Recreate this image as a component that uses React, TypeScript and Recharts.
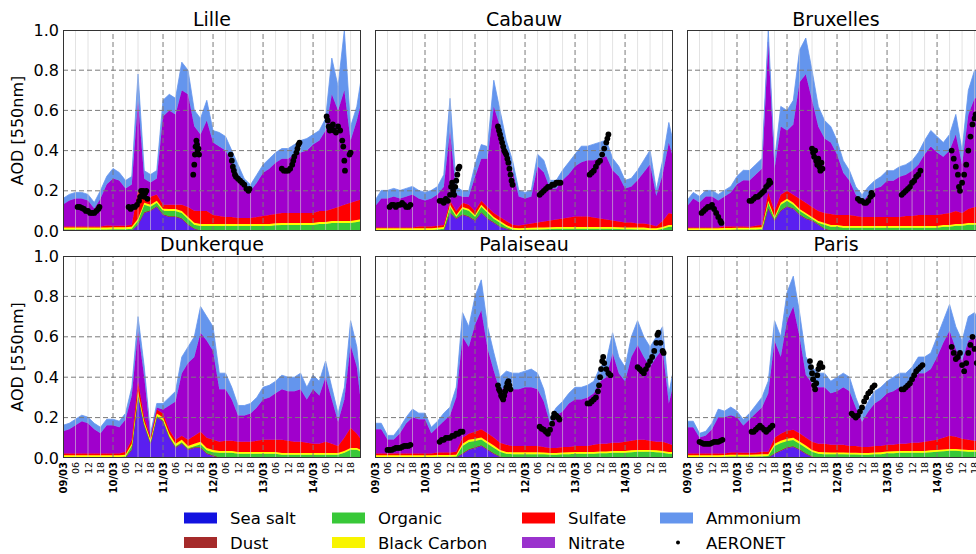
import React from "react";
import { ComposedChart, Area, Scatter, XAxis, YAxis, ReferenceLine } from "recharts";

// time axis: hours since 09/03 00h, every 3 h
const hours = [
  0, 3, 6, 9, 12, 15, 18, 21,
  24, 27, 30, 33, 36, 39, 42, 45,
  48, 51, 54, 57, 60, 63, 66, 69,
  72, 75, 78, 81, 84, 87, 90, 93,
  96, 99, 102, 105, 108, 111, 114, 117,
  120, 123, 126, 129, 132, 135, 138, 141,
  144,
];

const xTicks = [0, 6, 12, 18, 24, 30, 36, 42, 48, 54, 60, 66, 72, 78, 84, 90, 96, 102, 108, 114, 120, 126, 132, 138];
const dayTicks = [24, 48, 72, 96, 120];
const dayLabels = ["09/03", "10/03", "11/03", "12/03", "13/03", "14/03"];
const hourLabels = ["06", "12", "18"];
const yTicks = [0, 0.2, 0.4, 0.6, 0.8, 1.0];
const yGrid = [0.2, 0.4, 0.6, 0.8];

// ---------- Lille ----------
const lilleSeaSalt = [
  0, 0, 0, 0, 0, 0, 0, 0,
  0, 0, 0, 0, .03, .09, .1, .12,
  .08, .07, .07, .06, .03, .01, 0, 0,
  0, 0, 0, 0, 0, 0, 0, 0,
  0, 0, 0, 0, 0, 0, 0, 0,
  0, 0, 0, 0, 0, 0, 0, 0,
  0,
];
const lilleDust = [
  .003, .003, .003, .003, .003, .003, .003, .003,
  .003, .003, .003, .003, .003, .003, .003, .003,
  .003, .003, .003, .003, .003, .003, .003, .003,
  .003, .003, .003, .003, .003, .003, .003, .003,
  .003, .003, .003, .003, .003, .003, .003, .003,
  .003, .003, .003, .003, .003, .003, .003, .003,
  .003,
];
const lilleOrganic = [
  .004, .004, .004, .004, .004, .004, .004, .004,
  .006, .006, .006, .008, .018, .037, .018, .018,
  .018, .027, .027, .027, .027, .018, .022, .022,
  .022, .022, .022, .022, .022, .022, .022, .022,
  .022, .022, .025, .027, .027, .027, .027, .027,
  .027, .032, .032, .037, .037, .037, .037, .042,
  .047,
];
const lilleBlackCarbon = [
  .01, .01, .01, .01, .01, .01, .01, .01,
  .01, .01, .01, .01, .01, .01, .01, .01,
  .01, .01, .01, .01, .01, .01, .01, .01,
  .01, .01, .01, .01, .01, .01, .01, .01,
  .01, .01, .01, .01, .01, .01, .01, .01,
  .01, .01, .01, .01, .01, .01, .01, .01,
  .01,
];
const lilleSulfate = [
  .005, .005, .005, .005, .005, .005, .005, .01,
  .007, .007, .007, .01, .14, .03, .04, .03,
  .02, .02, .02, .03, .05, .06, .065, .065,
  .045, .04, .035, .035, .03, .03, .03, .035,
  .04, .045, .047, .05, .05, .05, .05, .05,
  .05, .055, .055, .06, .07, .08, .09, .095,
  .1,
];
const lilleNitrate = [
  .11, .13, .14, .14, .13, .09, .14, .205,
  .235, .225, .185, .2, .45, .09, .07, .08,
  .44, .47, .45, .57, .56, .42, .38, .45,
  .36, .345, .33, .27, .215, .165, .135, .17,
  .215, .23, .255, .27, .27, .29, .3, .31,
  .34, .35, .4, .57, .48, .57, .31, .4,
  .52,
];
const lilleAmmonium = [
  .03, .03, .03, .03, .03, .03, .04, .04,
  .05, .04, .04, .04, .13, .04, .04, .04,
  .08, .08, .08, .14, .12, .08, .08, .1,
  .06, .07, .07, .06, .05, .03, .03, .04,
  .04, .05, .05, .05, .05, .05, .06, .06,
  .05, .05, .06, .18, .12, .3, .07, .07,
  .14,
];
const lilleAeronet = [
  [7, .12], [8, .12], [9, .115], [10, .11], [11, .1], [12, .1], [13, .09], [14, .09], [15, .09], [16, .1], [17, .11], [17.5, .12],
  [31.5, .12], [32.5, .11], [33.5, .12], [34.5, .12], [35.5, .13], [36.5, .15], [37, .17], [37.5, .2], [38, .18], [38.5, .2], [39, .17], [39.5, .19], [40, .2], [40.5, .16],
  [62.5, .28], [63, .33], [63.3, .38], [63.6, .42], [64, .45], [64.3, .43], [64.6, .4], [65, .41], [65.3, .38],
  [80.5, .38], [81, .35], [81.5, .32], [82, .3], [82.5, .28], [83, .27], [84, .26], [85, .25], [86, .24], [87, .23], [88, .21], [89, .2], [89.5, .21],
  [105, .31], [106, .3], [107, .3], [108, .3], [109, .31], [110, .33], [110.5, .35], [111, .37], [112, .39], [112.5, .41], [113, .43], [113.5, .44],
  [126.5, .57], [127, .55], [127.5, .52], [128, .5], [129, .51], [129.5, .53], [130, .5], [131, .49], [132, .52], [133, .5], [134, .45], [134.5, .42], [135, .35], [135.3, .3], [137.5, .38], [138, .39],
];

// ---------- Cabauw ----------
const cabauwSeaSalt = [
  0, 0, 0, 0, 0, 0, 0, 0,
  0, 0, 0, 0, .09, .06, .08, .07,
  .05, .09, .06, .04, .02, .01, 0, 0,
  0, 0, 0, 0, 0, 0, 0, 0,
  0, 0, 0, 0, 0, 0, 0, 0,
  0, 0, 0, 0, 0, 0, 0, 0,
  0,
];
const cabauwDust = [
  .003, .003, .003, .003, .003, .003, .003, .003,
  .003, .003, .003, .003, .003, .003, .003, .003,
  .003, .003, .003, .003, .003, .003, .003, .003,
  .003, .003, .003, .003, .003, .003, .003, .003,
  .003, .003, .003, .003, .003, .003, .003, .003,
  .003, .003, .003, .003, .003, .003, .003, .003,
  .003,
];
const cabauwOrganic = [
  .002, .002, .002, .002, .002, .002, .002, .002,
  .002, .002, .004, .008, .028, .008, .028, .028,
  .018, .028, .028, .018, .018, .008, .004, .002,
  .003, .004, .005, .006, .007, .008, .008, .008,
  .008, .008, .008, .008, .008, .008, .008, .007,
  .006, .006, .005, .005, .002, .002, .008, .018,
  .018,
];
const cabauwBlackCarbon = [
  .009, .009, .009, .009, .009, .009, .009, .009,
  .009, .009, .009, .009, .009, .009, .009, .009,
  .009, .009, .009, .009, .009, .009, .009, .009,
  .009, .009, .009, .009, .009, .009, .009, .009,
  .009, .009, .009, .009, .009, .009, .009, .009,
  .009, .009, .009, .009, .009, .009, .009, .009,
  .009,
];
const cabauwSulfate = [
  .003, .003, .003, .003, .003, .003, .003, .008,
  .008, .008, .01, .01, .02, .02, .02, .02,
  .02, .02, .02, .02, .02, .02, .015, .013,
  .017, .021, .025, .029, .033, .037, .042, .047,
  .052, .052, .052, .047, .042, .037, .032, .028,
  .024, .024, .02, .02, .018, .01, .03, .06,
  .05,
];
const cabauwNitrate = [
  .105, .145, .145, .155, .145, .155, .165, .14,
  .13, .14, .155, .19, .35, .08, .03, .04,
  .17, .21, .24, .53, .45, .33, .27, .145,
  .13, .135, .28, .245, .16, .155, .19, .215,
  .25, .27, .28, .285, .3, .315, .25, .225,
  .17, .18, .215, .255, .3, .15, .23, .35,
  .25,
];
const cabauwAmmonium = [
  .03, .04, .04, .04, .04, .04, .04, .04,
  .04, .04, .04, .06, .16, .04, .03, .03,
  .06, .07, .06, .13, .08, .07, .05, .03,
  .03, .03, .06, .06, .04, .04, .05, .06,
  .06, .08, .07, .08, .08, .08, .06, .05,
  .04, .04, .05, .06, .07, .03, .07, .1,
  .07,
];
const cabauwAeronet = [
  [7, .12], [8, .13], [9, .13], [10, .12], [11, .13], [12, .13], [13, .14], [14, .13], [15, .12], [16, .12], [17, .13],
  [31, .15], [32, .15], [33, .14], [34, .16], [35, .15], [36, .18], [36.5, .22], [37, .24], [37.5, .2], [38, .18], [38.5, .22], [39, .25], [39.5, .28], [40, .31], [40.5, .32],
  [59, .52], [59.5, .5], [60, .48], [60.5, .46], [61, .44], [61.5, .42], [62, .4], [62.5, .39], [63, .38], [63.5, .36], [64, .34], [64.5, .31], [65, .28], [65.5, .25], [66, .23],
  [79, .18], [80, .19], [81, .2], [82, .21], [83, .22], [84, .22], [85, .23], [86, .23], [87, .24], [88, .24], [89, .24],
  [103, .28], [104, .29], [105, .3], [106, .32], [107, .34], [108, .35], [109, .38], [110, .41], [111, .44], [111.5, .46], [112, .48],
];

// ---------- Bruxelles ----------
const bruxellesSeaSalt = [
  0, 0, 0, 0, 0, 0, 0, 0,
  0, 0, 0, 0, 0, .11, .05, .1,
  .12, .11, .08, .06, .05, .03, .01, 0,
  0, 0, 0, 0, 0, 0, 0, 0,
  0, 0, 0, 0, 0, 0, 0, 0,
  0, 0, 0, 0, 0, 0, 0, 0,
  0,
];
const bruxellesDust = [
  .003, .003, .003, .003, .003, .003, .003, .003,
  .003, .003, .003, .003, .003, .003, .003, .003,
  .003, .003, .003, .003, .003, .003, .003, .003,
  .003, .003, .003, .003, .003, .003, .003, .003,
  .003, .003, .003, .003, .003, .003, .003, .003,
  .003, .003, .003, .003, .003, .003, .003, .003,
  .003,
];
const bruxellesOrganic = [
  .002, .002, .002, .002, .002, .002, .003, .003,
  .004, .004, .004, .005, .007, .028, .008, .028,
  .028, .018, .018, .018, .008, .008, .018, .018,
  .018, .013, .013, .013, .013, .013, .013, .013,
  .013, .013, .013, .013, .013, .013, .013, .013,
  .013, .018, .018, .023, .023, .028, .028, .028,
  .028,
];
const bruxellesBlackCarbon = [
  .009, .009, .009, .009, .009, .009, .009, .009,
  .009, .009, .009, .009, .009, .009, .009, .009,
  .009, .009, .009, .009, .009, .009, .009, .009,
  .009, .009, .009, .009, .009, .009, .009, .009,
  .009, .009, .009, .009, .009, .009, .009, .009,
  .009, .009, .009, .009, .009, .009, .009, .009,
  .009,
];
const bruxellesSulfate = [
  .003, .003, .003, .003, .003, .003, .007, .007,
  .006, .006, .005, .009, .012, .04, .03, .04,
  .04, .04, .05, .05, .05, .05, .05, .055,
  .05, .055, .055, .05, .045, .045, .045, .045,
  .045, .045, .045, .05, .05, .055, .055, .055,
  .055, .055, .06, .065, .055, .07, .08, .08,
  .08,
];
const bruxellesNitrate = [
  .105, .145, .125, .155, .155, .135, .15, .17,
  .21, .23, .23, .255, .28, .75, .21, .34,
  .3, .35, .58, .64, .53, .42, .37, .355,
  .3, .21, .17, .105, .07, .11, .14, .15,
  .18, .18, .2, .205, .225, .25, .3, .34,
  .31, .285, .31, .38, .24, .47, .54, .54,
  .54,
];
const bruxellesAmmonium = [
  .03, .03, .03, .03, .03, .03, .03, .03,
  .04, .05, .05, .05, .05, .06, .04, .1,
  .1, .12, .16, .18, .15, .1, .09, .08,
  .07, .06, .05, .04, .04, .04, .04, .05,
  .05, .05, .05, .05, .05, .06, .07, .08,
  .08, .07, .08, .1, .07, .12, .14, .14,
  .14,
];
const bruxellesAeronet = [
  [7, .09], [8, .1], [9, .11], [10, .12], [11, .12], [12, .13], [13, .11], [14, .09], [15, .07], [16, .05], [16.5, .04],
  [30, .15], [31, .15], [32, .16], [33, .17], [34, .17], [35, .18], [36, .19], [37, .2], [38, .22], [39, .23], [39.5, .25], [40, .24],
  [60, .41], [60.5, .39], [61, .37], [61.5, .4], [62, .35], [62.5, .33], [63, .36], [63.5, .32], [64, .3], [64.5, .34], [65, .31],
  [82, .16], [83, .15], [84, .15], [85, .14], [86, .14], [87, .15], [88, .17], [88.5, .19], [89, .18],
  [103, .18], [104, .19], [105, .2], [106, .21], [107, .22], [108, .24], [109, .25], [110, .27], [111, .28], [112, .3],
  [127, .4], [128, .36], [129, .32], [130, .28], [130.5, .22], [131, .2], [132, .24], [133, .28], [134, .33], [135, .4], [136, .47], [137, .53], [138, .56], [138.5, .58],
];

// ---------- Dunkerque ----------
const dunkerqueSeaSalt = [
  0, 0, 0, 0, 0, 0, 0, 0,
  0, 0, 0, .04, .31, .16, .07, .2,
  .18, .1, .05, .07, .04, .05, .05, .02,
  .01, 0, 0, 0, 0, 0, 0, 0,
  0, 0, 0, 0, 0, 0, 0, 0,
  0, 0, 0, 0, 0, 0, 0, 0,
  0,
];
const dunkerqueDust = [
  .003, .003, .003, .003, .003, .003, .003, .003,
  .003, .003, .003, .003, .003, .003, .003, .003,
  .003, .003, .003, .003, .003, .003, .003, .003,
  .003, .003, .003, .003, .003, .003, .003, .003,
  .003, .003, .003, .003, .003, .003, .003, .003,
  .003, .003, .003, .003, .003, .003, .003, .003,
  .003,
];
const dunkerqueOrganic = [
  .002, .002, .002, .002, .002, .002, .002, .002,
  .002, .002, .004, .018, .005, .005, .005, .005,
  .005, .005, .005, .005, .005, .005, .015, .015,
  .015, .023, .023, .023, .018, .018, .018, .018,
  .018, .018, .018, .013, .013, .013, .013, .013,
  .013, .013, .013, .013, .013, .023, .038, .038,
  .023,
];
const dunkerqueBlackCarbon = [
  .009, .009, .009, .009, .009, .009, .009, .009,
  .009, .009, .009, .009, .012, .012, .012, .012,
  .012, .012, .012, .012, .012, .012, .012, .012,
  .012, .009, .009, .009, .009, .009, .009, .009,
  .009, .009, .009, .009, .009, .009, .009, .009,
  .009, .009, .009, .009, .009, .009, .009, .009,
  .009,
];
const dunkerqueSulfate = [
  .008, .008, .008, .008, .008, .008, .008, .008,
  .008, .008, .015, .02, .05, .02, .01, .02,
  .02, .02, .02, .02, .03, .04, .05, .05,
  .05, .045, .05, .05, .05, .05, .05, .055,
  .06, .06, .06, .065, .06, .055, .055, .05,
  .045, .045, .055, .045, .035, .065, .1, .07,
  .045,
];
const dunkerqueNitrate = [
  .11, .12, .14, .16, .15, .12, .1, .14,
  .14, .13, .16, .22, .25, .2, .01, .01,
  .02, .12, .19, .31, .38, .39, .49, .48,
  .44, .26, .255, .205, .13, .13, .14, .165,
  .2, .21, .23, .25, .245, .25, .26, .215,
  .27, .24, .32, .22, .12, .19, .41, .33,
  .1,
];
const dunkerqueAmmonium = [
  .03, .03, .03, .03, .03, .03, .03, .03,
  .03, .03, .03, .04, .07, .05, .01, .02,
  .03, .04, .05, .08, .08, .1, .13, .12,
  .12, .08, .08, .06, .05, .05, .05, .05,
  .06, .06, .06, .07, .07, .07, .08, .06,
  .07, .07, .08, .06, .04, .06, .12, .1,
  .04,
];
const dunkerqueAeronet: number[][] = [];

// ---------- Palaiseau ----------
const palaiseauSeaSalt = [
  0, 0, 0, 0, 0, 0, 0, 0,
  0, 0, 0, 0, 0, 0, .02, .04,
  .05, .06, .04, .02, .005, 0, 0, 0,
  0, 0, 0, 0, 0, 0, 0, 0,
  0, 0, 0, 0, 0, 0, 0, 0,
  0, 0, 0, 0, 0, 0, 0, 0,
  0,
];
const palaiseauDust = [
  .003, .003, .003, .003, .003, .003, .003, .003,
  .003, .003, .003, .003, .003, .003, .003, .003,
  .003, .003, .003, .003, .003, .003, .003, .003,
  .003, .003, .003, .003, .003, .003, .003, .003,
  .003, .003, .003, .003, .003, .003, .003, .003,
  .003, .003, .003, .003, .003, .003, .003, .003,
  .003,
];
const palaiseauOrganic = [
  .002, .002, .002, .002, .002, .002, .002, .002,
  .002, .002, .003, .003, .003, .004, .036, .036,
  .031, .028, .028, .028, .023, .018, .016, .016,
  .016, .016, .016, .015, .013, .013, .015, .016,
  .018, .018, .018, .018, .02, .02, .023, .023,
  .023, .026, .028, .028, .028, .026, .023, .018,
  .018,
];
const palaiseauBlackCarbon = [
  .009, .009, .009, .009, .009, .009, .009, .009,
  .009, .009, .009, .009, .009, .009, .011, .011,
  .011, .011, .011, .011, .009, .009, .009, .009,
  .009, .009, .009, .009, .009, .009, .009, .009,
  .009, .009, .009, .009, .009, .009, .009, .009,
  .009, .009, .009, .009, .009, .009, .009, .009,
  .009,
];
const palaiseauSulfate = [
  .008, .008, .008, .008, .008, .008, .008, .008,
  .008, .008, .012, .012, .012, .015, .03, .03,
  .035, .04, .04, .04, .035, .035, .032, .032,
  .032, .032, .032, .028, .025, .025, .028, .027,
  .03, .03, .03, .035, .038, .038, .04, .04,
  .045, .047, .05, .05, .045, .042, .045, .04,
  .03,
];
const palaiseauNitrate = [
  .12, .12, .07, .07, .1, .15, .18, .17,
  .17, .1, .125, .155, .185, .27, .5, .43,
  .53, .59, .42, .33, .255, .295, .28, .28,
  .29, .29, .28, .225, .12, .16, .175, .215,
  .23, .23, .24, .255, .31, .33, .445, .345,
  .3, .415, .47, .41, .365, .42, .46, .2,
  .34,
];
const palaiseauAmmonium = [
  .03, .03, .02, .02, .03, .03, .04, .03,
  .03, .03, .03, .04, .04, .05, .12, .1,
  .14, .15, .11, .09, .07, .07, .08, .08,
  .08, .09, .08, .06, .03, .04, .05, .05,
  .06, .06, .06, .06, .07, .08, .1, .08,
  .07, .1, .12, .1, .1, .1, .11, .05,
  .08,
];
const palaiseauAeronet = [
  [6, .04], [7, .04], [8, .04], [9, .045], [10, .05], [11, .05], [12, .05], [13, .055], [14, .06], [15, .06], [16, .06], [17, .065],
  [31, .08], [32, .09], [33, .09], [34, .1], [35, .1], [36, .1], [37, .11], [38, .11], [39, .12], [40, .12], [41, .13], [42, .13],
  [59, .36], [59.5, .34], [60, .33], [60.5, .31], [61, .3], [61.5, .29], [62, .31], [62.5, .33], [63, .35], [63.5, .37], [64, .38], [64.5, .36], [65, .34],
  [79, .155], [80, .145], [81, .14], [82, .13], [83, .12], [84, .14], [85, .17], [85.5, .2], [86, .22], [87, .21], [88, .2], [88.5, .19],
  [102, .27], [103, .27], [104, .28], [105, .29], [106, .3], [107, .33], [107.5, .36], [108, .4], [108.5, .44], [109, .48], [109.5, .5], [110, .47], [111, .44], [112, .42], [113, .41],
  [126, .45], [127, .44], [128, .43], [129, .42], [130, .44], [131, .46], [132, .48], [133, .5], [134, .53], [135, .57], [135.5, .61], [136, .62], [137, .57], [138, .53], [138.5, .52],
];

// ---------- Paris ----------
const parisSeaSalt = [
  0, 0, 0, 0, 0, 0, 0, 0,
  0, 0, 0, 0, 0, 0, .02, .035,
  .05, .055, .04, .02, .005, 0, 0, 0,
  0, 0, 0, 0, 0, 0, 0, 0,
  0, 0, 0, 0, 0, 0, 0, 0,
  0, 0, 0, 0, 0, 0, 0, 0,
  0,
];
const parisDust = [
  .003, .003, .003, .003, .003, .003, .003, .003,
  .003, .003, .003, .003, .003, .003, .003, .003,
  .003, .003, .003, .003, .003, .003, .003, .003,
  .003, .003, .003, .003, .003, .003, .003, .003,
  .003, .003, .003, .003, .003, .003, .003, .003,
  .003, .003, .003, .003, .003, .003, .003, .003,
  .003,
];
const parisOrganic = [
  .002, .002, .002, .002, .002, .002, .003, .004,
  .004, .004, .004, .005, .006, .007, .036, .036,
  .031, .031, .028, .028, .023, .018, .016, .015,
  .015, .015, .014, .014, .013, .013, .015, .016,
  .02, .021, .023, .023, .023, .023, .023, .026,
  .028, .03, .033, .033, .03, .028, .028, .026,
  .026,
];
const parisBlackCarbon = [
  .009, .009, .009, .009, .009, .009, .009, .009,
  .009, .009, .009, .009, .009, .009, .011, .011,
  .011, .011, .011, .011, .009, .009, .009, .009,
  .009, .009, .009, .009, .009, .009, .009, .009,
  .009, .009, .009, .009, .009, .009, .009, .009,
  .009, .009, .009, .009, .009, .009, .009, .009,
  .009,
];
const parisSulfate = [
  .008, .008, .008, .008, .008, .008, .007, .011,
  .011, .01, .01, .009, .013, .012, .03, .035,
  .04, .04, .04, .04, .04, .04, .042, .038,
  .038, .038, .034, .034, .03, .03, .033, .032,
  .033, .032, .035, .035, .04, .04, .045, .047,
  .05, .058, .065, .06, .053, .05, .045, .042,
  .042,
];
const parisNitrate = [
  .13, .13, .08, .09, .12, .18, .18, .185,
  .175, .135, .165, .195, .22, .29, .48, .38,
  .545, .61, .48, .31, .29, .28, .28, .255,
  .265, .285, .27, .19, .125, .175, .21, .23,
  .255, .265, .28, .28, .305, .345, .34, .355,
  .41, .47, .52, .435, .385, .49, .515, .46,
  .42,
];
const parisAmmonium = [
  .03, .03, .02, .02, .03, .04, .03, .04,
  .03, .03, .03, .04, .05, .06, .1, .1,
  .14, .15, .12, .09, .08, .07, .07, .06,
  .07, .07, .07, .05, .04, .05, .06, .06,
  .06, .07, .07, .07, .07, .08, .08, .08,
  .1, .11, .13, .11, .1, .12, .12, .11,
  .1,
];
const parisAeronet = [
  [6, .08], [7, .075], [8, .07], [9, .07], [10, .07], [11, .07], [12, .075], [13, .08], [14, .08], [15, .08], [16, .085], [17, .09],
  [31, .13], [32, .13], [33, .14], [34, .15], [35, .16], [36, .15], [37, .14], [38, .13], [39, .14], [40, .15], [41, .16],
  [59, .48], [59.5, .45], [60, .42], [60.5, .39], [61, .36], [61.5, .34], [62, .37], [62.5, .41], [63, .44], [63.5, .46], [64, .47], [65, .45],
  [79, .22], [80, .21], [81, .2], [82, .21], [83, .23], [84, .25], [85, .28], [86, .3], [87, .32], [88, .33], [89, .35], [90, .36],
  [103, .34], [104, .34], [105, .35], [106, .36], [107, .37], [108, .39], [109, .41], [110, .43], [111, .44], [112, .45], [113, .46],
  [127, .55], [128, .52], [129, .49], [130, .5], [131, .52], [132, .46], [133, .43], [134, .47], [135, .52], [136, .56], [137, .6], [138, .54], [139, .47],
];

const FONT = '"DejaVu Sans", "Liberation Sans", sans-serif';

// stack order bottom -> top
const layers = [
  { key: "seaSalt", name: "Sea salt", color: "#5a1ff0", legend: "#1212e0" },
  { key: "dust", name: "Dust", color: "#a52a2a", legend: "#a52a2a" },
  { key: "organic", name: "Organic", color: "#38c838", legend: "#38c838" },
  { key: "blackCarbon", name: "Black Carbon", color: "#ffff00", legend: "#f8f400" },
  { key: "sulfate", name: "Sulfate", color: "#ff0000", legend: "#ff0000" },
  { key: "nitrate", name: "Nitrate", color: "#a000cc", legend: "#9a32cd" },
  { key: "ammonium", name: "Ammonium", color: "#6495ed", legend: "#6495ed" },
];

const stations = [
  { name: "Lille", col: 0, row: 0, seaSalt: lilleSeaSalt, dust: lilleDust, organic: lilleOrganic, blackCarbon: lilleBlackCarbon, sulfate: lilleSulfate, nitrate: lilleNitrate, ammonium: lilleAmmonium, aeronet: lilleAeronet },
  { name: "Cabauw", col: 1, row: 0, seaSalt: cabauwSeaSalt, dust: cabauwDust, organic: cabauwOrganic, blackCarbon: cabauwBlackCarbon, sulfate: cabauwSulfate, nitrate: cabauwNitrate, ammonium: cabauwAmmonium, aeronet: cabauwAeronet },
  { name: "Bruxelles", col: 2, row: 0, seaSalt: bruxellesSeaSalt, dust: bruxellesDust, organic: bruxellesOrganic, blackCarbon: bruxellesBlackCarbon, sulfate: bruxellesSulfate, nitrate: bruxellesNitrate, ammonium: bruxellesAmmonium, aeronet: bruxellesAeronet },
  { name: "Dunkerque", col: 0, row: 1, seaSalt: dunkerqueSeaSalt, dust: dunkerqueDust, organic: dunkerqueOrganic, blackCarbon: dunkerqueBlackCarbon, sulfate: dunkerqueSulfate, nitrate: dunkerqueNitrate, ammonium: dunkerqueAmmonium, aeronet: dunkerqueAeronet },
  { name: "Palaiseau", col: 1, row: 1, seaSalt: palaiseauSeaSalt, dust: palaiseauDust, organic: palaiseauOrganic, blackCarbon: palaiseauBlackCarbon, sulfate: palaiseauSulfate, nitrate: palaiseauNitrate, ammonium: palaiseauAmmonium, aeronet: palaiseauAeronet },
  { name: "Paris", col: 2, row: 1, seaSalt: parisSeaSalt, dust: parisDust, organic: parisOrganic, blackCarbon: parisBlackCarbon, sulfate: parisSulfate, nitrate: parisNitrate, ammonium: parisAmmonium, aeronet: parisAeronet },
];

// plot-area geometry (px)
const COL_X = [63, 375, 687];
const ROW_Y = [30, 256];
const ROW_H = [201, 202];
const PLOT_W = 298;
const AXIS_W = 63;
const XAXIS_H = 46;
const PAD = 10;

function XTick(props: any) {
  const { x, y, payload } = props;
  const h = payload.value;
  const isDay = h % 24 === 0;
  const label = isDay ? dayLabels[h / 24] : hourLabels[(h % 24) / 6 - 1];
  return (
    <text
      x={x}
      y={y}
      transform={`rotate(-90 ${x} ${y})`}
      textAnchor="end"
      dominantBaseline="central"
      fontSize={isDay ? 10 : 9.5}
      fontWeight={isDay ? "bold" : "normal"}
      fontFamily={FONT}
      fill="#000"
    >
      {label}
    </text>
  );
}

const Dot = (props: any) => <circle cx={props.cx} cy={props.cy} r={2.9} fill="#000" />;

function Panel({ st }: { st: any }) {
  const showY = st.col === 0;
  const showX = st.row === 1;
  const yw = showY ? AXIS_W : 0;
  const ml = showY ? 0 : PAD;
  const xh = showX ? XAXIS_H : 0;
  const mb = showX ? 0 : PAD;
  const plotH = ROW_H[st.row];
  const rows = hours.map((h, i) => ({
    h,
    seaSalt: st.seaSalt[i],
    dust: st.dust[i],
    organic: st.organic[i],
    blackCarbon: st.blackCarbon[i],
    sulfate: st.sulfate[i],
    nitrate: st.nitrate[i],
    ammonium: st.ammonium[i],
  }));
  const pts = st.aeronet.map(([h, v]: number[]) => ({ h, v }));

  return (
    <div style={{ position: "absolute", left: COL_X[st.col] - yw - ml, top: ROW_Y[st.row] - PAD }}>
      <ComposedChart
        width={ml + yw + PLOT_W + PAD}
        height={PAD + plotH + xh + mb}
        data={rows}
        margin={{ top: PAD, right: PAD, bottom: mb, left: ml }}
      >
        <XAxis
          dataKey="h"
          type="number"
          domain={[0, 143]}
          allowDataOverflow
          ticks={xTicks}
          interval={0}
          hide={!showX}
          height={xh}
          tick={<XTick />}
          tickLine={false}
          axisLine={false}
          tickSize={0}
          tickMargin={4}
        />
        <YAxis
          type="number"
          domain={[0, 1]}
          allowDataOverflow
          ticks={yTicks}
          interval={0}
          hide={!showY}
          width={yw}
          tickFormatter={(v: number) => v.toFixed(1)}
          tick={{ fontSize: 16, fill: "#000", fontFamily: FONT }}
          tickLine={false}
          axisLine={false}
          tickSize={0}
          tickMargin={4}
        />
        {layers.map((l) => (
          <Area
            key={l.key}
            dataKey={l.key}
            stackId="a"
            type="linear"
            fill={l.color}
            fillOpacity={1}
            stroke={l.color}
            strokeWidth={0.8}
            dot={false}
            activeDot={false}
            isAnimationActive={false}
          />
        ))}
        {xTicks.filter((t) => t % 24 !== 0).map((t) => (
          <ReferenceLine key={"m" + t} x={t} stroke="#d0d0d0" strokeOpacity={0.6} strokeWidth={1} />
        ))}
        {dayTicks.map((t) => (
          <ReferenceLine key={"d" + t} x={t} stroke="#7a7a7a" strokeWidth={1} strokeDasharray="5 3" />
        ))}
        {yGrid.map((v) => (
          <ReferenceLine key={"y" + v} y={v} stroke="#7a7a7a" strokeWidth={1} strokeDasharray="5 3" />
        ))}
        {pts.length > 0 && (
          <Scatter data={pts} dataKey="v" fill="#000" shape={Dot} isAnimationActive={false} />
        )}
      </ComposedChart>
      {/* frame */}
      <div
        style={{
          position: "absolute",
          left: ml + yw,
          top: PAD,
          width: PLOT_W,
          height: plotH,
          border: "1px solid #333",
          boxSizing: "border-box",
          pointerEvents: "none",
        }}
      />
    </div>
  );
}

const legendCols = [184, 332, 522, 660];
const legendRows = [518, 542.5];

export default function App() {
  const legendItems = [...layers.map((l) => ({ name: l.name, color: l.legend, dot: false })), { name: "AERONET", color: "#000", dot: true }];
  return (
    <div style={{ position: "absolute", left: 0, top: 0, width: 976, height: 554, overflow: "hidden", background: "#fff", fontFamily: FONT }}>
      {stations.map((st) => (
        <Panel key={st.name} st={st} />
      ))}
      <svg width={976} height={554} style={{ position: "absolute", left: 0, top: 0, pointerEvents: "none" }}>
        {stations.map((st) => (
          <text
            key={"t" + st.name}
            x={COL_X[st.col] + PLOT_W / 2}
            y={st.row === 0 ? 26 : 251}
            textAnchor="middle"
            fontSize={19}
            fontFamily={FONT}
            fill="#000"
          >
            {st.name}
          </text>
        ))}
        {ROW_Y.map((y, r) => (
          <text
            key={"yl" + r}
            x={17}
            y={y + ROW_H[r] / 2}
            transform={`rotate(-90 17 ${y + ROW_H[r] / 2})`}
            textAnchor="middle"
            dominantBaseline="central"
            fontSize={16}
            fontFamily={FONT}
            fill="#000"
          >
            AOD [550nm]
          </text>
        ))}
        {legendItems.map((it, i) => {
          const x = legendCols[Math.floor(i / 2)];
          const cy = legendRows[i % 2];
          return (
            <g key={"lg" + it.name}>
              {it.dot ? (
                <circle cx={x + 18} cy={cy} r={2} fill="#000" />
              ) : (
                <rect x={x} y={cy - 5.5} width={33} height={11} fill={it.color} />
              )}
              <text x={x + 46} y={cy + 6} fontSize={16.5} fontFamily={FONT} fill="#000">
                {it.name}
              </text>
            </g>
          );
        })}
      </svg>
    </div>
  );
}
